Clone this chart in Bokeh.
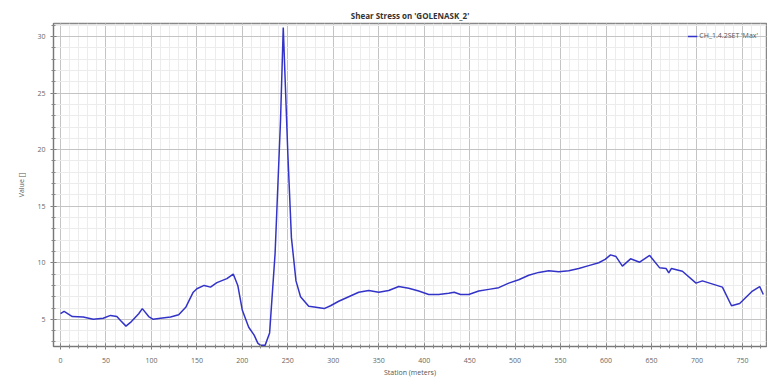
from bokeh.plotting import figure
from bokeh.models import Range1d, Legend, LegendItem, ColumnDataSource
from bokeh.embed import file_html
from bokeh.resources import INLINE

station = [0, 4, 13, 25, 36, 47, 55, 62, 66, 72, 78, 86, 90, 97, 102, 110, 121, 130,
           138, 146, 150, 158, 165, 172, 183, 190, 195, 200, 207, 213, 217, 220, 225,
           230, 236, 242, 245, 250, 254, 259, 264, 273, 279, 290, 297, 306, 317, 328,
           339, 350, 361, 372, 383, 394, 405, 416, 427, 433, 440, 449, 460, 471, 482,
           493, 504, 515, 526, 537, 548, 559, 570, 581, 592, 599, 605, 611, 618, 627,
           637, 648, 659, 666, 669, 672, 684, 699, 706, 728, 738, 747, 761, 769, 773]
shear = [5.5, 5.7, 5.25, 5.2, 5.0, 5.1, 5.35, 5.25, 4.9, 4.4, 4.8, 5.5, 5.95, 5.25,
         5.0, 5.1, 5.2, 5.4, 6.1, 7.4, 7.7, 8.0, 7.85, 8.25, 8.6, 9.0, 8.0, 5.8, 4.3,
         3.6, 2.9, 2.7, 2.7, 3.8, 10.8, 22.6, 30.8, 19.7, 12.2, 8.4, 7.0, 6.15, 6.1,
         5.95, 6.2, 6.6, 7.0, 7.4, 7.55, 7.4, 7.55, 7.9, 7.75, 7.5, 7.2, 7.2, 7.3, 7.4,
         7.2, 7.2, 7.5, 7.65, 7.8, 8.2, 8.5, 8.9, 9.15, 9.3, 9.2, 9.3, 9.5, 9.75, 10.0,
         10.3, 10.7, 10.55, 9.7, 10.35, 10.05, 10.65, 9.55, 9.5, 9.1, 9.5, 9.25, 8.2,
         8.4, 7.85, 6.2, 6.4, 7.5, 7.9, 7.2]

series_name = "CH_1.4.2SET 'Max'"
title_text = "Shear Stress on 'GOLENASK_2'"
x_label = "Station (meters)"
y_label = "Value []"

src = ColumnDataSource(dict(x=station, y=shear))

p = figure(width=767, height=382, output_backend="svg", toolbar_location=None,
           x_range=Range1d(-7.7, 776.5), y_range=Range1d(2.6, 31.15),
           min_border_left=53, min_border_right=1, min_border_bottom=36, min_border_top=23)

p.title.text = title_text
p.title.align = "center"
p.title.text_font = "Open Sans"
p.title.text_font_size = "8px"
p.title.text_font_style = "bold"
p.title.text_color = "#333333"
p.title.offset = 0
p.title.standoff = 5

r = p.line("x", "y", source=src, line_color="#3333c8", line_width=1.5)

for ax in (p.xaxis[0], p.yaxis[0]):
    ax.major_label_text_font = "Open Sans"
    ax.major_label_text_font_size = "7px"
    ax.major_label_text_color = "#666666"
    ax.axis_label_text_font = "Open Sans"
    ax.axis_label_text_font_size = "7px"
    ax.axis_label_text_font_style = "normal"
    ax.axis_label_text_color = "#555555"
    ax.axis_line_color = "#777777"
    ax.major_tick_line_color = "#777777"
    ax.minor_tick_line_color = "#888888"
    ax.major_tick_in = 3
    ax.major_tick_out = 3
    ax.minor_tick_in = 2
    ax.minor_tick_out = 2
    ax.axis_label_standoff = 4
    ax.major_label_standoff = 5

p.xaxis.axis_label = x_label
p.yaxis.axis_label = y_label
p.xaxis[0].major_label_standoff = 8
p.xaxis[0].axis_label_standoff = 2
p.yaxis[0].axis_label_standoff = 8
p.xaxis.ticker.desired_num_ticks = 16
p.xaxis.ticker.num_minor_ticks = 5
p.yaxis.ticker.desired_num_ticks = 6
p.yaxis.ticker.num_minor_ticks = 5

p.xgrid.grid_line_color = "#c4c4c4"
p.ygrid.grid_line_color = "#c4c4c4"
p.xgrid.minor_grid_line_color = "#ececec"
p.ygrid.minor_grid_line_color = "#ececec"
p.outline_line_color = "#888888"
p.outline_line_width = 1.5

legend = Legend(items=[LegendItem(label=series_name, renderers=[r])],
                location="top_right", border_line_color=None, background_fill_alpha=0,
                label_text_font="Open Sans", label_text_font_size="7px",
                label_text_color="#555555", glyph_width=10, glyph_height=8,
                label_standoff=2, margin=8, padding=2, spacing=0)
p.add_layout(legend)

open("out.html", "w").write(file_html(p, INLINE))
